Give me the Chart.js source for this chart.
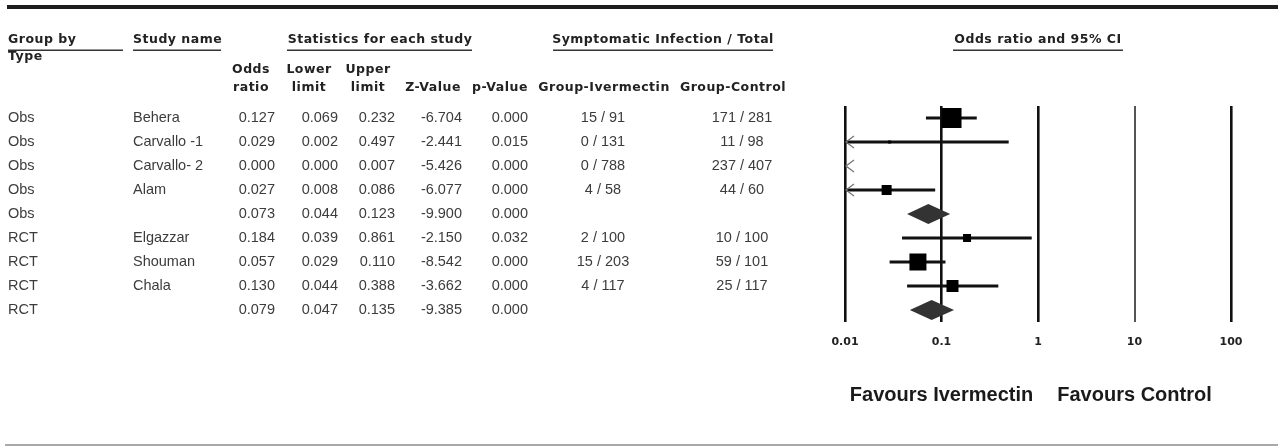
<!DOCTYPE html>
<html>
<head>
<meta charset="utf-8">
<script src="https://cdn.jsdelivr.net/npm/chart.js"></script>
<style>
  body { margin: 0; background: #fff; }
  #wrap { width: 1278px; height: 447px; }
</style>
</head>
<body>
<div id="wrap"><canvas id="forest" width="1278" height="447"></canvas></div>
<script>
// rows of the forest plot, top to bottom
const groupType = ['Obs', 'Obs', 'Obs', 'Obs', 'Obs', 'RCT', 'RCT', 'RCT', 'RCT'];
const studyNames = ['Behera', 'Carvallo -1', 'Carvallo- 2', 'Alam', '', 'Elgazzar', 'Shouman', 'Chala', ''];
const oddsRatio = [0.127, 0.029, 0.000, 0.027, 0.073, 0.184, 0.057, 0.130, 0.079];
const lowerLimit = [0.069, 0.002, 0.000, 0.008, 0.044, 0.039, 0.029, 0.044, 0.047];
const upperLimit = [0.232, 0.497, 0.007, 0.086, 0.123, 0.861, 0.110, 0.388, 0.135];
const zValue = [-6.704, -2.441, -5.426, -6.077, -9.900, -2.150, -8.542, -3.662, -9.385];
const pValue = [0.000, 0.015, 0.000, 0.000, 0.000, 0.032, 0.000, 0.000, 0.000];
const ivermectinEvents = ['15 / 91', '0 / 131', '0 / 788', '4 / 58', '', '2 / 100', '15 / 203', '4 / 117', ''];
const controlEvents = ['171 / 281', '11 / 98', '237 / 407', '44 / 60', '', '10 / 100', '59 / 101', '25 / 117', ''];
const isSummary = [false, false, false, false, true, false, false, false, true];
const studyWeight = [20, 3, 0, 10, 0, 8, 17, 12, 0];
const tickValues = [0.01, 0.1, 1, 10, 100];
const tickLabels = ['0.01', '0.1', '1', '10', '100'];

const HEAD_FONT = 'bold 12.5px "DejaVu Sans"';
const BODY_FONT = '14.5px "Liberation Sans"';
const X_MIN = tickValues[0], X_MAX = tickValues[tickValues.length - 1];

function txt(ctx, s, x, y, align, font, color, spacing) {
    ctx.save();
    ctx.font = font;
    ctx.fillStyle = color;
    ctx.textAlign = align;
    ctx.textBaseline = 'middle';
    ctx.letterSpacing = (spacing || 0) + 'px';
    ctx.fillText(s, x, y);
    ctx.restore();
}

// CI whiskers, one small line per study
const ciSets = [];
oddsRatio.forEach((v, i) => {
    if (isSummary[i] || upperLimit[i] < X_MIN) return;
    ciSets.push({
        data: [{ x: lowerLimit[i], y: i }, { x: upperLimit[i], y: i }],
        showLine: true,
        borderColor: '#111',
        borderWidth: 3,
        pointRadius: 0,
        order: 2
    });
});

const squarePoints = [];
const squareSizes = [];
oddsRatio.forEach((v, i) => {
    if (isSummary[i] || v < X_MIN) return;
    squarePoints.push({ x: v, y: i });
    squareSizes.push(studyWeight[i] / 1.414);
});

const tablePlugin = {
    id: 'forestTable',
    afterDatasetsDraw(chart) {
        const ctx = chart.ctx, xs = chart.scales.x, ys = chart.scales.y;
        ctx.save();
        oddsRatio.forEach((v, i) => {
            const yc = ys.getPixelForValue(i);
            if (isSummary[i]) {
                const xl = xs.getPixelForValue(lowerLimit[i]);
                const xo = xs.getPixelForValue(v);
                const xh = xs.getPixelForValue(upperLimit[i]);
                ctx.fillStyle = '#333';
                ctx.beginPath();
                ctx.moveTo(xl, yc);
                ctx.lineTo(xo, yc - 10);
                ctx.lineTo(xh, yc);
                ctx.lineTo(xo, yc + 10);
                ctx.closePath();
                ctx.fill();
            } else if (lowerLimit[i] < X_MIN) {
                const x0 = xs.left;
                ctx.strokeStyle = '#777';
                ctx.lineWidth = 1.3;
                ctx.beginPath();
                ctx.moveTo(x0 + 9, yc - 6);
                ctx.lineTo(x0 + 1, yc);
                ctx.lineTo(x0 + 9, yc + 6);
                ctx.stroke();
            }
        });
        ctx.restore();
    },
    afterDraw(chart) {
        const ctx = chart.ctx, xs = chart.scales.x, ys = chart.scales.y;
        ctx.save();
        ctx.fillStyle = '#1e1e1e';
        ctx.fillRect(7, 5, 1271, 4);
        ctx.fillStyle = '#a8a8a8';
        ctx.fillRect(5, 444, 1273, 2);
        ctx.fillStyle = '#333';
        [[8, 123], [133, 221], [287, 472], [553, 773], [953, 1123]].forEach(([a, b]) => {
            ctx.fillRect(a, 49.5, b - a, 1.5);
        });
        ctx.restore();

        const hc = '#222';
        txt(ctx, 'Group by', 8, 40, 'left', HEAD_FONT, hc, 0.5);
        txt(ctx, 'Type', 8, 57, 'left', HEAD_FONT, hc, 0.5);
        txt(ctx, 'Study name', 133, 40, 'left', HEAD_FONT, hc, 0.5);
        txt(ctx, 'Statistics for each study', 380, 40, 'center', HEAD_FONT, hc, 0.5);
        txt(ctx, 'Symptomatic Infection / Total', 663, 40, 'center', HEAD_FONT, hc, 0.5);
        txt(ctx, 'Odds ratio and 95% CI', xs.getPixelForValue(1), 40, 'center', HEAD_FONT, hc, 0.5);

        [['Odds', 'ratio', 251], ['Lower', 'limit', 309], ['Upper', 'limit', 368]].forEach(([a, b, cx]) => {
            txt(ctx, a, cx, 70, 'center', HEAD_FONT, hc, 0.5);
            txt(ctx, b, cx, 88, 'center', HEAD_FONT, hc, 0.5);
        });
        txt(ctx, 'Z-Value', 433, 88, 'center', HEAD_FONT, hc, 0.5);
        txt(ctx, 'p-Value', 500, 88, 'center', HEAD_FONT, hc, 0.5);
        txt(ctx, 'Group-Ivermectin', 604, 88, 'center', HEAD_FONT, hc, 0.5);
        txt(ctx, 'Group-Control', 733, 88, 'center', HEAD_FONT, hc, 0.5);

        const bc = '#3c3c3c';
        oddsRatio.forEach((v, i) => {
            const yc = ys.getPixelForValue(i);
            txt(ctx, groupType[i], 8, yc, 'left', BODY_FONT, bc);
            txt(ctx, studyNames[i], 133, yc, 'left', BODY_FONT, bc);
            txt(ctx, v.toFixed(3), 275, yc, 'right', BODY_FONT, bc);
            txt(ctx, lowerLimit[i].toFixed(3), 338, yc, 'right', BODY_FONT, bc);
            txt(ctx, upperLimit[i].toFixed(3), 395, yc, 'right', BODY_FONT, bc);
            txt(ctx, zValue[i].toFixed(3), 462, yc, 'right', BODY_FONT, bc);
            txt(ctx, pValue[i].toFixed(3), 528, yc, 'right', BODY_FONT, bc);
            txt(ctx, ivermectinEvents[i], 603, yc, 'center', BODY_FONT, bc);
            txt(ctx, controlEvents[i], 742, yc, 'center', BODY_FONT, bc);
        });

        const ff = 'bold 20px "Liberation Sans"';
        txt(ctx, 'Favours Ivermectin', xs.getPixelForValue(0.1), 395, 'center', ff, '#1a1a1a');
        txt(ctx, 'Favours Control', xs.getPixelForValue(10), 395, 'center', ff, '#1a1a1a');
    }
};

new Chart(document.getElementById('forest'), {
    type: 'scatter',
    data: {
        datasets: ciSets.concat([{
            data: squarePoints,
            pointStyle: 'rect',
            pointRadius: squareSizes,
            backgroundColor: '#000',
            borderColor: '#000',
            borderWidth: 0,
            order: 1
        }])
    },
    options: {
        responsive: false,
        animation: false,
        layout: { padding: { left: 845, right: 47, top: 106, bottom: 95 } },
        plugins: { legend: { display: false }, tooltip: { enabled: false } },
        scales: {
            x: {
                type: 'logarithmic',
                min: X_MIN,
                max: X_MAX,
                afterBuildTicks: (scale) => { scale.ticks = tickValues.map(v => ({ value: v })); },
                afterFit: (scale) => { scale.height = 30; },
                border: { display: false },
                grid: {
                    drawTicks: false,
                    color: (c) => (c.tick && c.tick.value === 10 ? '#555' : '#111'),
                    lineWidth: (c) => (c.tick && c.tick.value === 10 ? 2 : 2.6)
                },
                ticks: {
                    autoSkip: false,
                    maxRotation: 0,
                    padding: 14,
                    color: '#222',
                    font: { family: 'DejaVu Sans', weight: 'bold', size: 11 },
                    callback: (v) => tickLabels[tickValues.indexOf(v)]
                }
            },
            y: {
                type: 'linear',
                min: -0.5,
                max: 8.5,
                reverse: true,
                display: false
            }
        }
    },
    plugins: [tablePlugin]
});
</script>
</body>
</html>
